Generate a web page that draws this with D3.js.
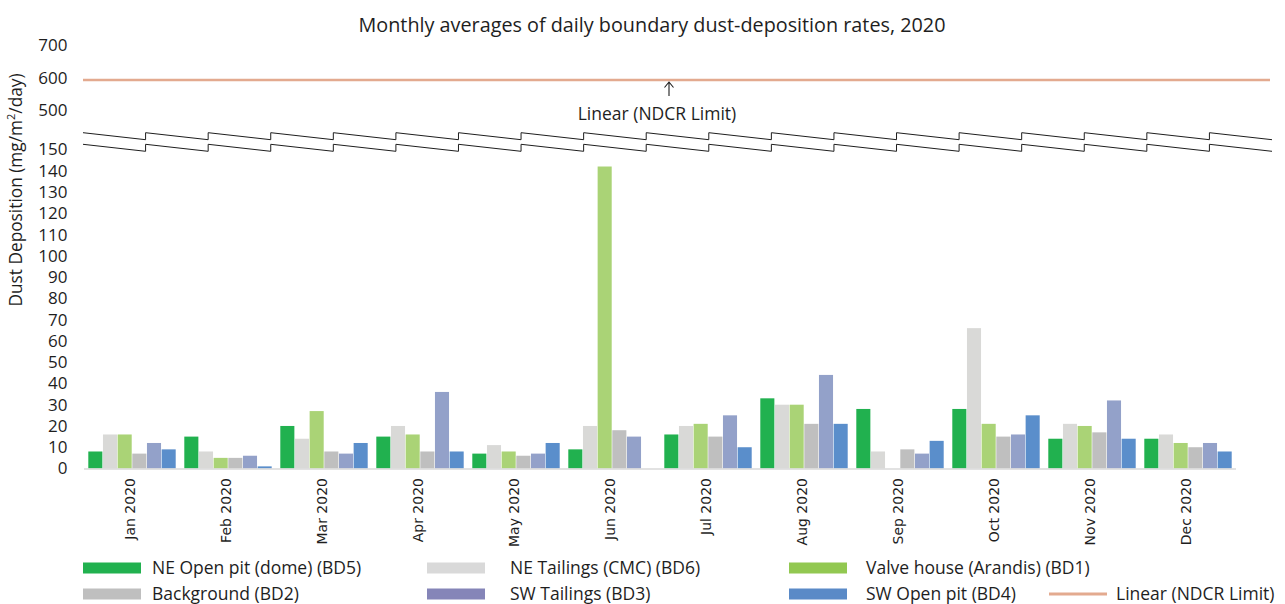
<!DOCTYPE html>
<html><head><meta charset="utf-8">
<script src="https://cdn.jsdelivr.net/npm/d3@7/dist/d3.min.js"></script>
<style>
body{margin:0;background:#fff;}
svg{display:block;font-family:"Open Sans",Lato,sans-serif;}
</style></head>
<body><svg id="chart" width="1285" height="604"></svg>
<script>
const months = ["Jan 2020","Feb 2020","Mar 2020","Apr 2020","May 2020","Jun 2020","Jul 2020","Aug 2020","Sep 2020","Oct 2020","Nov 2020","Dec 2020"];
const seriesNames = ["NE Open pit (dome) (BD5)","NE Tailings (CMC) (BD6)","Valve house (Arandis) (BD1)","Background (BD2)","SW Tailings (BD3)","SW Open pit (BD4)"];
const neOpenPit   = [8, 15, 20, 15, 7, 9, 16, 33, 28, 28, 14, 14];
const neTailings  = [16, 8, 14, 20, 11, 20, 20, 30, 8, 66, 21, 16];
const valveHouse  = [16, 5, 27, 16, 8, 142, 21, 30, 0, 21, 20, 12];
const background  = [7, 5, 8, 8, 6, 18, 15, 21, 9, 15, 17, 10];
const swTailings  = [12, 6, 7, 36, 7, 15, 25, 44, 7, 16, 32, 12];
const swOpenPit   = [9, 1, 12, 8, 12, 0, 10, 21, 13, 25, 14, 8];
const seriesValues = [neOpenPit, neTailings, valveHouse, background, swTailings, swOpenPit];
const limitName = "Linear (NDCR Limit)";
const limitValue = 600;
const lowerTicks = [0,10,20,30,40,50,60,70,80,90,100,110,120,130,140,150];
const upperTicks = [500,600,700];

const barColors = ["#21b14f","#d9d9d7","#aad376","#bfbfbf","#93a1c9","#5a8ecb"];
const legendColors = ["#21b14f","#d9d9d9","#92c851","#bfbfbf","#8585b8","#5a8ac7"];
const limitColor = "#e3aa8f";
const FONT = "'Open Sans',Lato,sans-serif";
const TXT = "#1e1e1e";

const svg = d3.select("#chart");

// title
svg.append("text").attr("x",652).attr("y",32).attr("text-anchor","middle")
  .attr("font-size",19.8).attr("fill",TXT).text("Monthly averages of daily boundary dust-deposition rates, 2020");

// scales
const x0 = d3.scaleBand().domain(months).range([84,1236]).paddingInner(1/12).paddingOuter(1/24);
const x1 = d3.scaleBand().domain(d3.range(seriesNames.length)).range([0,x0.bandwidth()]);
const yLow = d3.scaleLinear().domain([0,150]).range([468.5,149.5]);
const yUp = d3.scaleLinear().domain([500,700]).range([110.5,45.5]);

// y axis labels
const axL = svg.append("g").attr("transform","translate(67.5,0)")
  .call(d3.axisLeft(yLow).tickValues(lowerTicks).tickSize(0).tickPadding(0));
const axU = svg.append("g").attr("transform","translate(67.5,0)")
  .call(d3.axisLeft(yUp).tickValues(upperTicks).tickSize(0).tickPadding(0));
[axL,axU].forEach(a=>{
  a.select(".domain").remove();
  a.selectAll("text").attr("font-size",17).attr("fill",TXT).attr("font-family",FONT);
});

// y axis title
svg.append("text").attr("transform","translate(22,190) rotate(-90)").attr("text-anchor","middle")
  .attr("font-size",17.3).attr("fill",TXT)
  .html('Dust Deposition (mg/m<tspan dy="-7" font-size="11">2</tspan><tspan dy="7">/day)</tspan>');

// bars
const groups = svg.append("g").selectAll("g").data(months).join("g")
  .attr("transform",d=>`translate(${x0(d)},0)`);
groups.selectAll("rect").data((m,i)=>seriesValues.map((s,k)=>({k,v:s[i]})))
  .join("rect")
  .attr("x",d=>x1(d.k)+0.3).attr("width",x1.bandwidth()-0.6)
  .attr("y",d=>yLow(d.v)).attr("height",d=>yLow(0)-yLow(d.v))
  .attr("fill",d=>barColors[d.k]);

// x axis baseline
svg.append("line").attr("x1",84).attr("x2",1236).attr("y1",469).attr("y2",469)
  .attr("stroke","#d9d9d9").attr("stroke-width",1.5);

// x labels
const xa = svg.append("g").attr("transform","translate(0,469)")
  .call(d3.axisBottom(x0).tickSize(0).tickPadding(0));
xa.select(".domain").remove();
xa.selectAll("text").attr("font-family","'DejaVu Sans',sans-serif").attr("font-size",14).attr("fill",TXT)
  .attr("text-anchor","end").attr("dy","0.35em").attr("transform","translate(-2,9) rotate(-90)");

// limit line
svg.append("line").attr("x1",83).attr("x2",1270).attr("y1",yUp(limitValue)+2).attr("y2",yUp(limitValue)+2)
  .attr("stroke",limitColor).attr("stroke-width",2.6);

// annotation arrow
const ax = 669, ay = yUp(limitValue)+4;
svg.append("path").attr("d",`M${ax},${ay+14} L${ax},${ay} M${ax-4.5},${ay+5.5} L${ax},${ay} L${ax+4.5},${ay+5.5}`)
  .attr("stroke",TXT).attr("fill","none").attr("stroke-width",1.1);
svg.append("text").attr("x",657).attr("y",120).attr("text-anchor","middle").attr("font-size",17.5)
  .attr("fill",TXT).text(limitName);

// axis break sawtooth
const bx0 = 83, bx1 = 1272, nSeg = 19, segW = (bx1-bx0)/nSeg;
[132.7,144.3].forEach(yb=>{
  let d = `M${bx0},${yb}`;
  for(let i=0;i<nSeg;i++){
    const xe = bx0+(i+1)*segW;
    d += ` L${xe},${yb+7}`;
    if(i<nSeg-1) d += ` L${xe},${yb}`;
  }
  svg.append("path").attr("d",d).attr("fill","none").attr("stroke",TXT).attr("stroke-width",1);
});

// legend
const legendItems = [
  {name:seriesNames[0],color:legendColors[0],sx:83,tx:152,row:0},
  {name:seriesNames[1],color:legendColors[1],sx:427,tx:510,row:0},
  {name:seriesNames[2],color:legendColors[2],sx:789,tx:866,row:0},
  {name:seriesNames[3],color:legendColors[3],sx:83,tx:152,row:1},
  {name:seriesNames[4],color:legendColors[4],sx:427,tx:510,row:1},
  {name:seriesNames[5],color:legendColors[5],sx:789,tx:866,row:1}
];
const rowY = [568, 594];
const lg = svg.append("g");
legendItems.forEach(it=>{
  lg.append("rect").attr("x",it.sx).attr("y",rowY[it.row]-5.5).attr("width",58).attr("height",11).attr("fill",it.color);
  lg.append("text").attr("x",it.tx).attr("y",rowY[it.row]).attr("dy","0.35em").attr("font-size",17.5)
    .attr("fill",TXT).text(it.name);
});
lg.append("line").attr("x1",1049).attr("x2",1107).attr("y1",rowY[1]).attr("y2",rowY[1])
  .attr("stroke",limitColor).attr("stroke-width",3);
lg.append("text").attr("x",1116).attr("y",rowY[1]).attr("dy","0.35em").attr("font-size",17.5)
  .attr("fill",TXT).text(limitName);
</script></body></html>
